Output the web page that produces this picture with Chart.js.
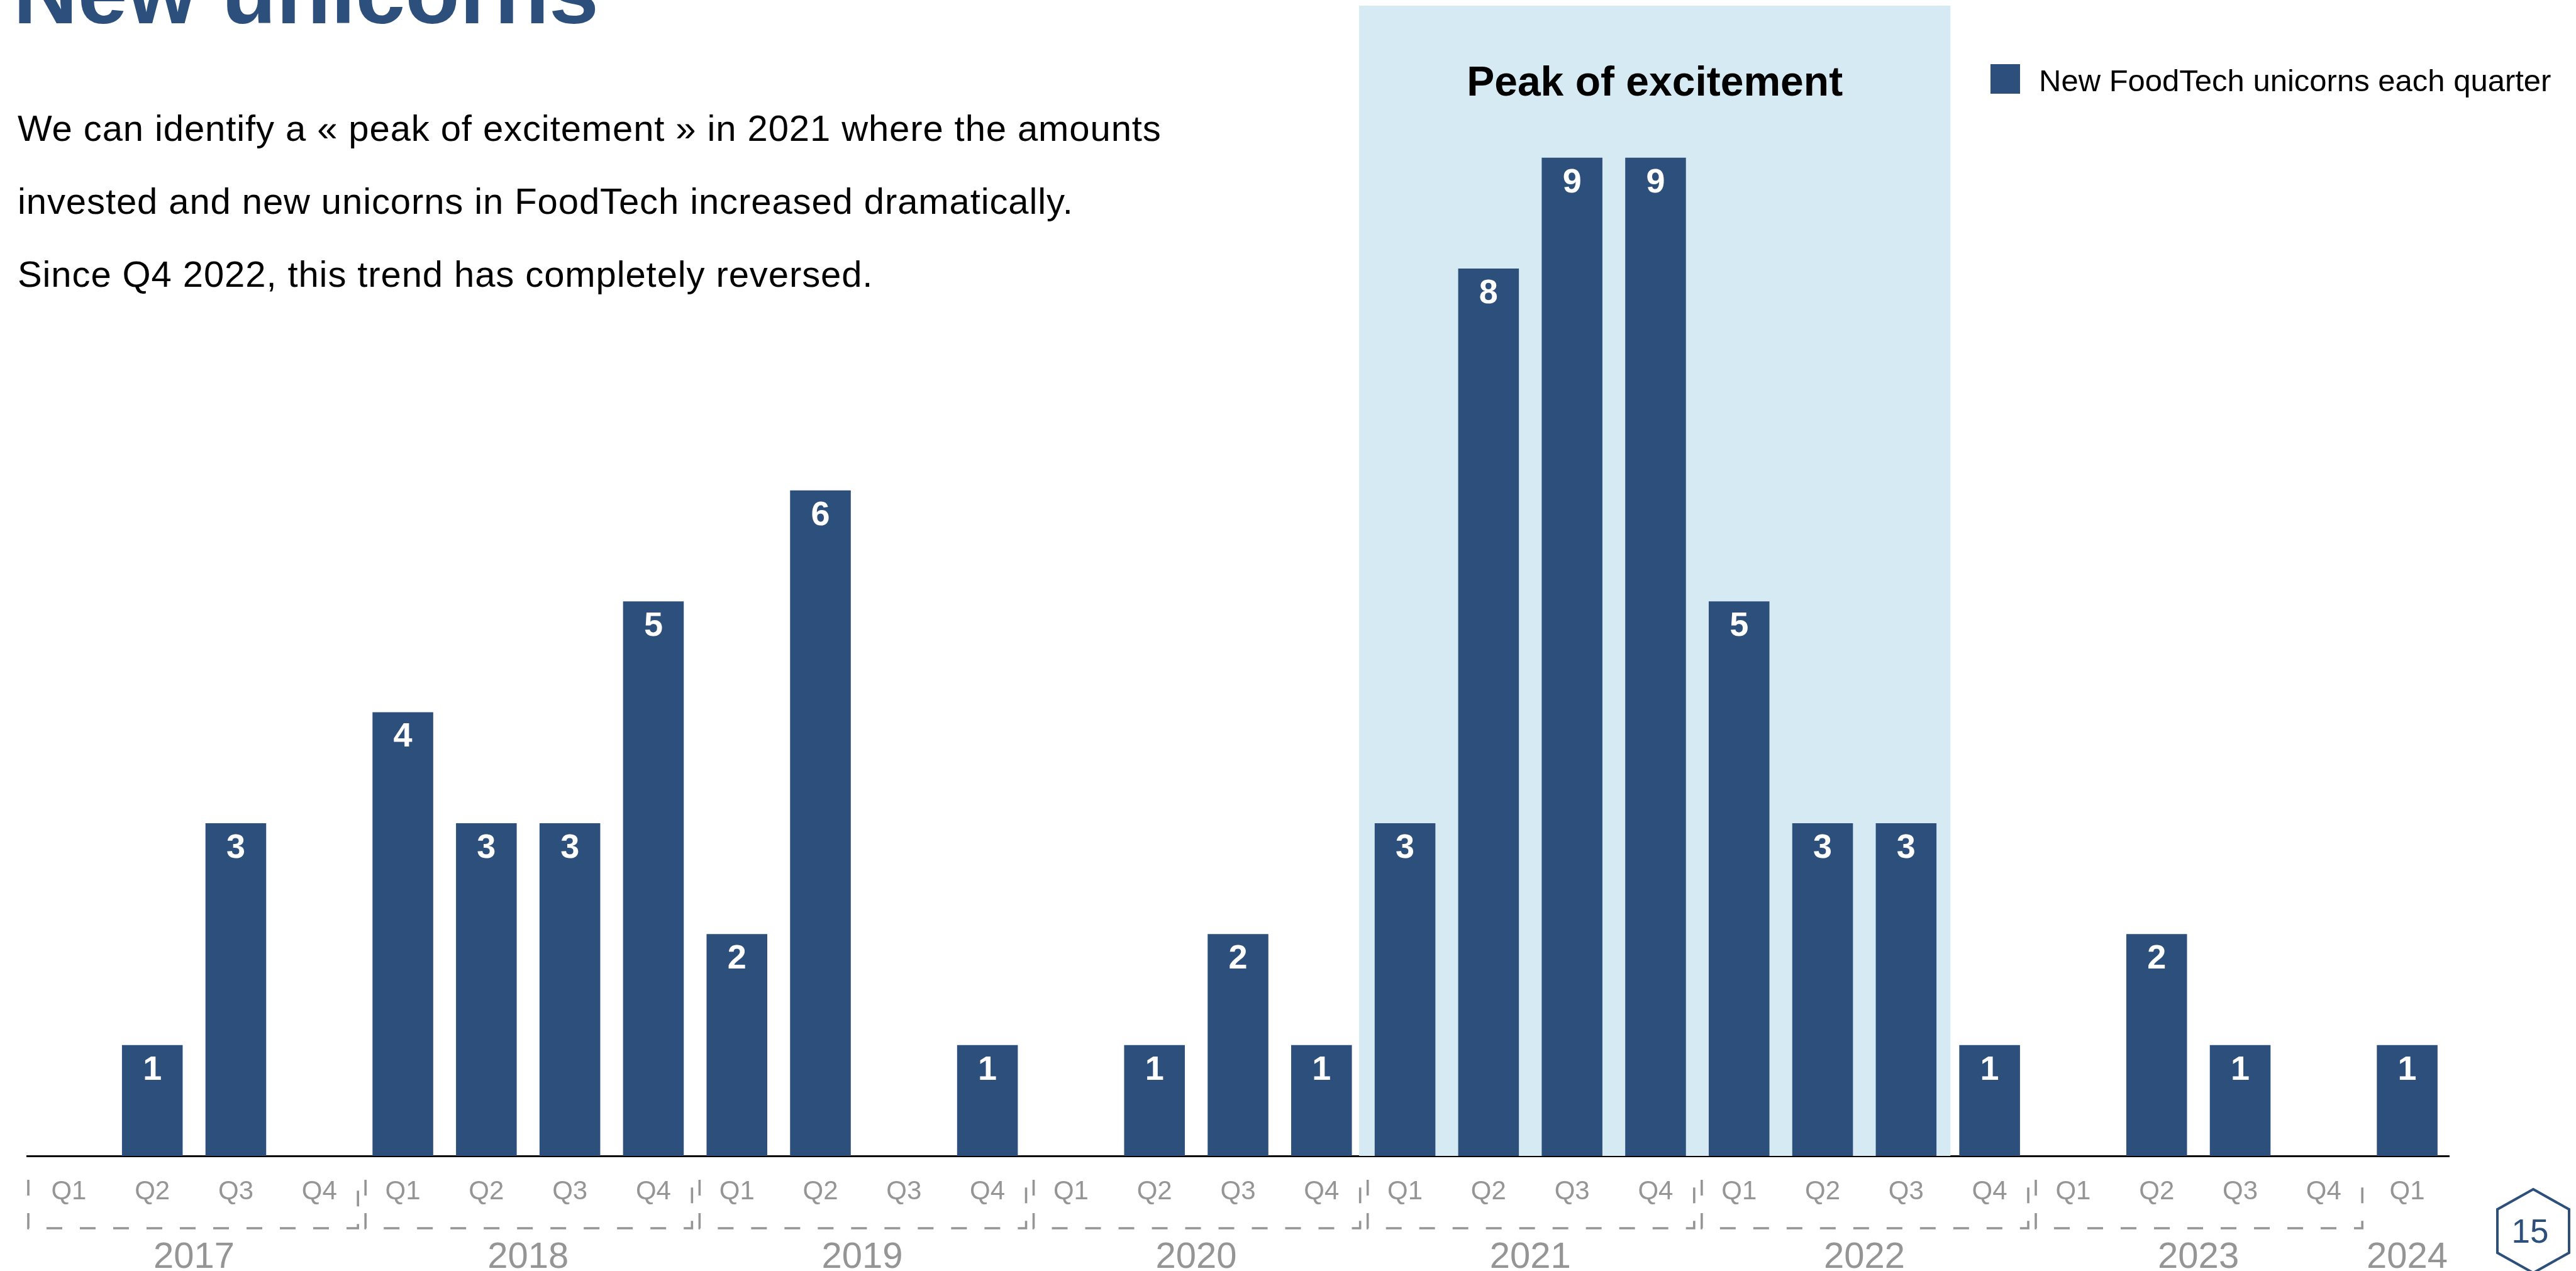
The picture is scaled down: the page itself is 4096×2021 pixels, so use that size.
<!DOCTYPE html>
<html>
<head>
<meta charset="utf-8">
<script src="https://cdn.jsdelivr.net/npm/chart.js@4.4.1/dist/chart.umd.min.js"></script>
<style>
  html, body { margin: 0; padding: 0; background: #fff; overflow: hidden; }
  #wrap { position: relative; width: 4096px; height: 2021px; }
  #chart { position: absolute; left: 0; top: 0; }
  #page { position: absolute; left: 0; top: 0; font-family: "Liberation Sans", Arial, sans-serif; }
  .lead { font-size: 58px; letter-spacing: 0.9px; fill: #000; }
</style>
</head>
<body>
<div id="wrap">
  <canvas id="chart" width="4096" height="2021"></canvas>
  <svg id="page" width="4096" height="2021">
    <text x="21" y="37" font-size="142" font-weight="bold" fill="#2d4f7c">New unicorns</text>
    <text class="lead" x="28" y="224">We can identify a « peak of excitement » in 2021 where the amounts</text>
    <text class="lead" x="28" y="340">invested and new unicorns in FoodTech increased dramatically.</text>
    <text class="lead" x="28" y="456">Since Q4 2022, this trend has completely reversed.</text>
    <polygon points="4028,1891 4085,1923 4085,1992 4028,2024 3971,1992 3971,1923" fill="none" stroke="#2d4f7c" stroke-width="4"/>
    <text x="4023" y="1976" font-size="53" text-anchor="middle" fill="#2d4f7c">15</text>
  </svg>
</div>
<script>
(function () {

    let quarters = [
        'Q1', 'Q2', 'Q3', 'Q4',
        'Q1', 'Q2', 'Q3', 'Q4',
        'Q1', 'Q2', 'Q3', 'Q4',
        'Q1', 'Q2', 'Q3', 'Q4',
        'Q1', 'Q2', 'Q3', 'Q4',
        'Q1', 'Q2', 'Q3', 'Q4',
        'Q1', 'Q2', 'Q3', 'Q4',
        'Q1',
    ]
    let years = ['2017', '2018', '2019', '2020', '2021', '2022', '2023', '2024']
    let unicorns = [
        0, 1, 3, 0,
        4, 3, 3, 5,
        2, 6, 0, 1,
        0, 1, 2, 1,
        3, 8, 9, 9,
        5, 3, 3, 1,
        0, 2, 1, 0,
        1,
    ]
    // Q1 2021 .. Q3 2022
    let peakFrom = 16
    let peakTo = 22
    let peakLabel = 'Peak of excitement'

    let blue = '#2d4f7c'
    let grey = '#959595'
    let font = '"Liberation Sans", Arial, sans-serif'

    let decor = {
        id: 'decor',
        beforeDatasetsDraw(chart) {
            let {ctx, chartArea, scales: {x}} = chart
            let left = x.getPixelForValue(peakFrom - 0.55)
            let right = x.getPixelForValue(peakTo + 0.53)
            ctx.save()
            ctx.fillStyle = '#d6eaf3'
            ctx.fillRect(left, chartArea.top, right - left, chartArea.bottom - chartArea.top)
            ctx.fillStyle = '#000'
            ctx.font = 'bold 66px ' + font
            ctx.textAlign = 'center'
            ctx.textBaseline = 'alphabetic'
            ctx.fillText(peakLabel, (left + right) / 2, 152)

            // legend
            let ds = chart.data.datasets[0]
            ctx.fillStyle = ds.backgroundColor
            ctx.fillRect(3165, 102, 47, 47)
            ctx.fillStyle = '#000'
            ctx.font = '49px ' + font
            ctx.textAlign = 'left'
            ctx.fillText(ds.label, 3242, 145)
            ctx.restore()
        },
        afterDatasetsDraw(chart) {
            let {ctx} = chart
            let meta = chart.getDatasetMeta(0)
            ctx.save()
            ctx.fillStyle = '#fff'
            ctx.font = 'bold 54px ' + font
            ctx.textAlign = 'center'
            ctx.textBaseline = 'middle'
            meta.data.forEach((bar, i) => {
                let v = unicorns[i]
                if (!v) return
                ctx.fillText(String(v), bar.x, bar.y + 40)
            })
            ctx.restore()
        },
        afterDraw(chart) {
            let {ctx, chartArea, scales: {x}} = chart
            let top = chartArea.bottom + 38
            let bottom = chartArea.bottom + 115
            ctx.save()
            ctx.strokeStyle = grey
            ctx.lineWidth = 3.6
            ctx.setLineDash([25, 28])
            ctx.fillStyle = grey
            ctx.font = '58px ' + font
            ctx.textAlign = 'center'
            ctx.textBaseline = 'middle'
            years.forEach((year, k) => {
                let first = k * 4
                let last = Math.min(first + 3, quarters.length - 1)
                if (last - first === 3) {
                    let xl = x.getPixelForValue(first - 0.5) + (k === 0 ? 2 : 7)
                    let xr = x.getPixelForValue(last + 0.5) - 5
                    ctx.beginPath()
                    ctx.moveTo(xl, top)
                    ctx.lineTo(xl, bottom)
                    ctx.lineTo(xr, bottom)
                    ctx.lineTo(xr, top)
                    ctx.stroke()
                }
                let cx = (x.getPixelForValue(first) + x.getPixelForValue(last)) / 2
                ctx.fillText(year, cx, chartArea.bottom + 162)
            })
            ctx.restore()
        },
    }

    new Chart(
        document.getElementById('chart'),
        {
            type: 'bar',
            data: {
                labels: quarters,
                datasets: [{
                    label: 'New FoodTech unicorns each quarter',
                    data: unicorns,
                    backgroundColor: blue,
                    borderWidth: 0,
                    barPercentage: 0.727,
                    categoryPercentage: 1,
                }],
            },
            options: {
                responsive: false,
                animation: false,
                layout: {
                    padding: {left: 43, right: 202, top: 9, bottom: 0},
                },
                plugins: {
                    legend: {display: false},
                    tooltip: {enabled: false},
                },
                scales: {
                    x: {
                        grid: {display: false, drawTicks: false},
                        border: {display: true, color: '#000', width: 3},
                        ticks: {
                            color: grey,
                            font: {family: font, size: 42},
                            padding: 32,
                            maxRotation: 0,
                            autoSkip: false,
                        },
                        afterFit(scale) {
                            scale.height = 183
                        },
                    },
                    y: {
                        display: false,
                        min: 0,
                        max: 10.37,
                    },
                },
            },
            plugins: [decor],
        },
    )
})()
</script>
</body>
</html>
